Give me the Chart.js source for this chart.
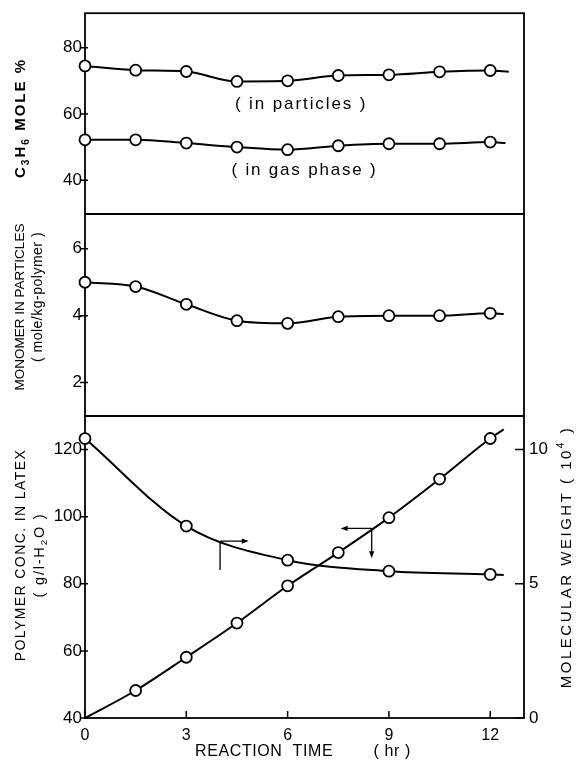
<!DOCTYPE html>
<html>
<head>
<meta charset="utf-8">
<script src="https://cdn.jsdelivr.net/npm/chart.js@4.4.1/dist/chart.umd.min.js"></script>
<style>
html, body { margin: 0; padding: 0; background: #fff; }
#wrap { position: relative; width: 578px; height: 768px; }
#wrap canvas { position: absolute; left: 0; top: 0; }
</style>
</head>
<body>
<div id="wrap">
    <canvas id="molePct" width="578" height="768"></canvas>
    <canvas id="monomer" width="578" height="768"></canvas>
    <canvas id="polymer" width="578" height="768"></canvas>
</div>
<script>
// ---------------- Data ----------------
const times = [0, 1.5, 3, 4.5, 6, 7.5, 9, 10.5, 12];
const molePctParticles = [74.5, 73.2, 72.8, 69.8, 70.0, 71.6, 71.8, 72.7, 73.1];
const molePctGas = [52.2, 52.2, 51.2, 50.0, 49.2, 50.4, 51.0, 51.0, 51.5];
const monomerInParticles = [5.0, 4.87, 4.34, 3.85, 3.77, 3.97, 4.0, 4.0, 4.07];
const polymerTimes = [1.5, 3, 4.5, 6, 7.5, 9, 10.5, 12];
const polymerConc = [48.2, 58.1, 68.3, 79.4, 89.3, 99.7, 111.2, 123.3];
const mwTimes = [0, 3, 6, 9, 12];
const molecularWeight = [10.41, 7.15, 5.88, 5.47, 5.35];

// where the drawn curves start / stop beyond the measured points
const particlesEnd = [12.55, 72.7];
const gasEnd = [12.45, 51.2];
const monomerEnd = [12.4, 4.05];
const polymerStart = [0, 40];
const polymerEnd = [12.4, 126];
const mwEnd = [12.4, 5.33];

// tick labels
const timeTicks = [0, 3, 6, 9, 12];
const molePctTicks = [40, 60, 80];
const monomerTicks = [2, 4, 6];
const concTicks = [40, 60, 80, 100, 120];
const mwTicks = [0, 5, 10];

const FONT = "'Liberation Sans', Arial, sans-serif";


// ---------------- Helpers ----------------
function series(xs, ys, start, end) {
    const pts = xs.map((x, i) => ({x: x, y: ys[i], m: true}));
    if (start) pts.unshift({x: start[0], y: start[1], m: false});
    if (end) pts.push({x: end[0], y: end[1], m: false});
    return pts;
}

function curve(data, axis) {
    return {
        data: data,
        yAxisID: axis || "y",
        borderColor: "#000",
        borderWidth: 2,
        pointBackgroundColor: "#fff",
        pointBorderColor: "#000",
        pointBorderWidth: 1.8,
        pointRadius: c => (c.raw && c.raw.m ? 5.5 : 0),
        cubicInterpolationMode: "monotone",
        clip: false
    };
}

// text made of plain / sub / sup pieces, centred on (cx, cy)
function drawRich(ctx, parts, cx, cy, size, opts) {
    opts = opts || {};
    ctx.save();
    ctx.translate(cx, cy);
    if (opts.vertical) ctx.rotate(-Math.PI / 2);
    ctx.fillStyle = "#000";
    ctx.textBaseline = "middle";
    ctx.textAlign = "left";
    ctx.letterSpacing = (opts.spacing || 0) + "px";
    const weight = opts.bold ? "bold " : "";
    const fontOf = p => weight + ((p.sub || p.sup) ? size * 0.68 : size) + "px " + FONT;
    let w = 0;
    parts.forEach(p => { ctx.font = fontOf(p); w += ctx.measureText(p.t).width; });
    let x = -w / 2;
    parts.forEach(p => {
        ctx.font = fontOf(p);
        const dy = p.sub ? size * 0.32 : (p.sup ? -size * 0.38 : 0);
        ctx.fillText(p.t, x, dy);
        x += ctx.measureText(p.t).width;
    });
    ctx.restore();
}

function arrowHead(ctx, x, y, dir) {
    const L = 7, W = 2.6;
    ctx.beginPath();
    if (dir === "right") { ctx.moveTo(x, y); ctx.lineTo(x - L, y - W); ctx.lineTo(x - L, y + W); }
    if (dir === "left")  { ctx.moveTo(x, y); ctx.lineTo(x + L, y - W); ctx.lineTo(x + L, y + W); }
    if (dir === "down")  { ctx.moveTo(x, y); ctx.lineTo(x - W, y - L); ctx.lineTo(x + W, y - L); }
    ctx.closePath();
    ctx.fill();
}


// ---------------- Frame + inward ticks ----------------
const framePlugin = {
    id: "frame",
    beforeDatasetsDraw(chart) {
        const {ctx, chartArea: a, scales} = chart;
        ctx.save();
        ctx.strokeStyle = "#000";
        ctx.lineWidth = 1.8;
        ctx.strokeRect(a.left, a.top, a.right - a.left, a.bottom - a.top);
        ctx.lineWidth = 1.5;
        ctx.beginPath();
        Object.values(scales).forEach(s => {
            if (!s.options.display) return;
            s.ticks.forEach(t => {
                const p = s.getPixelForValue(t.value);
                if (s.axis === "x") {
                    ctx.moveTo(p, a.bottom); ctx.lineTo(p, a.bottom - 7);
                } else if (s.position === "left") {
                    ctx.moveTo(a.left - 5, p); ctx.lineTo(a.left + 3, p);
                } else {
                    ctx.moveTo(a.right - 9, p); ctx.lineTo(a.right, p);
                }
            });
        });
        ctx.stroke();
        ctx.restore();
    }
};

function titlePlugin(draw) {
    return { id: "titles", afterDraw(chart) { draw(chart.ctx, chart); } };
}


// ---------------- Chart options ----------------
function yScale(min, max, ticks, position) {
    return {
        type: "linear",
        position: position || "left",
        min: min,
        max: max,
        afterBuildTicks: s => { s.ticks = ticks.map(v => ({value: v})); },
        afterFit: s => { s.width = position === "right" ? 54 : 85; },
        grid: {display: false, drawTicks: false},
        border: {display: false},
        ticks: {
            color: "#000",
            padding: position === "right" ? 5 : 3,
            font: {family: FONT, size: 17}
        }
    };
}

function hiddenX() {
    return {type: "linear", min: 0, max: 13, display: false};
}

function baseOptions(scales, padding) {
    return {
        responsive: false,
        animation: false,
        layout: {padding: padding},
        scales: scales,
        plugins: {legend: {display: false}, tooltip: {enabled: false}}
    };
}


// ---------------- Panel 1: C3H6 mole % ----------------
new Chart(document.getElementById("molePct"), {
    type: "line",
    data: {
        datasets: [
            curve(series(times, molePctParticles, null, particlesEnd)),
            curve(series(times, molePctGas, null, gasEnd))
        ]
    },
    options: baseOptions(
        {x: hiddenX(), y: yScale(29.8, 90.4, molePctTicks)},
        {top: 12, bottom: 554, left: 0, right: 54}
    ),
    plugins: [framePlugin, titlePlugin((ctx, chart) => {
        const x = chart.scales.x, y = chart.scales.y;
        drawRich(ctx, [{t: "C"}, {t: "3", sub: true}, {t: "H"}, {t: "6", sub: true}, {t: " MOLE %"}],
            21, 118, 15, {vertical: true, bold: true, spacing: 2});
        drawRich(ctx, [{t: "( in particles )"}], x.getPixelForValue(6.4), y.getPixelForValue(62.8), 17, {spacing: 1.9});
        drawRich(ctx, [{t: "( in gas phase )"}], x.getPixelForValue(6.5), y.getPixelForValue(43), 17, {spacing: 1.8});
    })]
});


// ---------------- Panel 2: monomer in particles ----------------
new Chart(document.getElementById("monomer"), {
    type: "line",
    data: {
        datasets: [curve(series(times, monomerInParticles, null, monomerEnd))]
    },
    options: baseOptions(
        {x: hiddenX(), y: yScale(1, 7.04, monomerTicks)},
        {top: 214, bottom: 352, left: 0, right: 54}
    ),
    plugins: [framePlugin, titlePlugin(ctx => {
        drawRich(ctx, [{t: "MONOMER IN PARTICLES"}], 20, 307, 13.5, {vertical: true});
        drawRich(ctx, [{t: "( mole/kg-polymer )"}], 38, 297, 14, {vertical: true, spacing: 0.5});
    })]
});


// ---------------- Panel 3: polymer conc. + molecular weight ----------------
new Chart(document.getElementById("polymer"), {
    type: "line",
    data: {
        datasets: [
            curve(series(polymerTimes, polymerConc, polymerStart, polymerEnd), "y"),
            curve(series(mwTimes, molecularWeight, null, mwEnd), "mw")
        ]
    },
    options: baseOptions(
        {
            x: {
                type: "linear",
                position: "bottom",
                min: 0,
                max: 13,
                afterBuildTicks: s => { s.ticks = timeTicks.map(v => ({value: v})); },
                afterFit: s => { s.height = 50; },
                grid: {display: false, drawTicks: false},
                border: {display: false},
                ticks: {color: "#000", padding: 8, font: {family: FONT, size: 16}}
            },
            y: yScale(40, 130, concTicks),
            mw: yScale(0, 11.25, mwTicks, "right")
        },
        {top: 416, bottom: 0, left: 0, right: 0}
    ),
    plugins: [framePlugin, titlePlugin((ctx, chart) => {
        const x = chart.scales.x, y = chart.scales.y, mw = chart.scales.mw;
        drawRich(ctx, [{t: "POLYMER CONC. IN LATEX"}], 21, 555, 14, {vertical: true, spacing: 1.4});
        drawRich(ctx, [{t: "( g/l-H"}, {t: "2", sub: true}, {t: "O )"}], 40, 555, 14.5, {vertical: true, spacing: 1.8});
        drawRich(ctx, [{t: "MOLECULAR WEIGHT ( 10"}, {t: "4", sup: true}, {t: " )"}], 567, 557, 15, {vertical: true, spacing: 2.5});
        drawRich(ctx, [{t: "REACTION  TIME        ( hr )"}], 303, 752, 16, {spacing: 0.6});

        // arrows pointing each curve to its axis
        ctx.save();
        ctx.strokeStyle = "#000";
        ctx.fillStyle = "#000";
        ctx.lineWidth = 1.3;
        const jx1 = x.getPixelForValue(4.0), jy1 = mw.getPixelForValue(6.59);
        const rx1 = x.getPixelForValue(4.85), dy1 = mw.getPixelForValue(5.51);
        ctx.beginPath();
        ctx.moveTo(jx1, jy1); ctx.lineTo(jx1, dy1);
        ctx.moveTo(jx1, jy1); ctx.lineTo(rx1 - 5, jy1);
        ctx.stroke();
        arrowHead(ctx, rx1, jy1, "right");

        const jx2 = x.getPixelForValue(8.49), jy2 = y.getPixelForValue(96.5);
        const lx2 = x.getPixelForValue(7.57), dy2 = y.getPixelForValue(87.6);
        ctx.beginPath();
        ctx.moveTo(jx2, jy2); ctx.lineTo(lx2 + 5, jy2);
        ctx.moveTo(jx2, jy2); ctx.lineTo(jx2, dy2 - 5);
        ctx.stroke();
        arrowHead(ctx, lx2, jy2, "left");
        arrowHead(ctx, jx2, dy2, "down");
        ctx.restore();
    })]
});
</script>
</body>
</html>
